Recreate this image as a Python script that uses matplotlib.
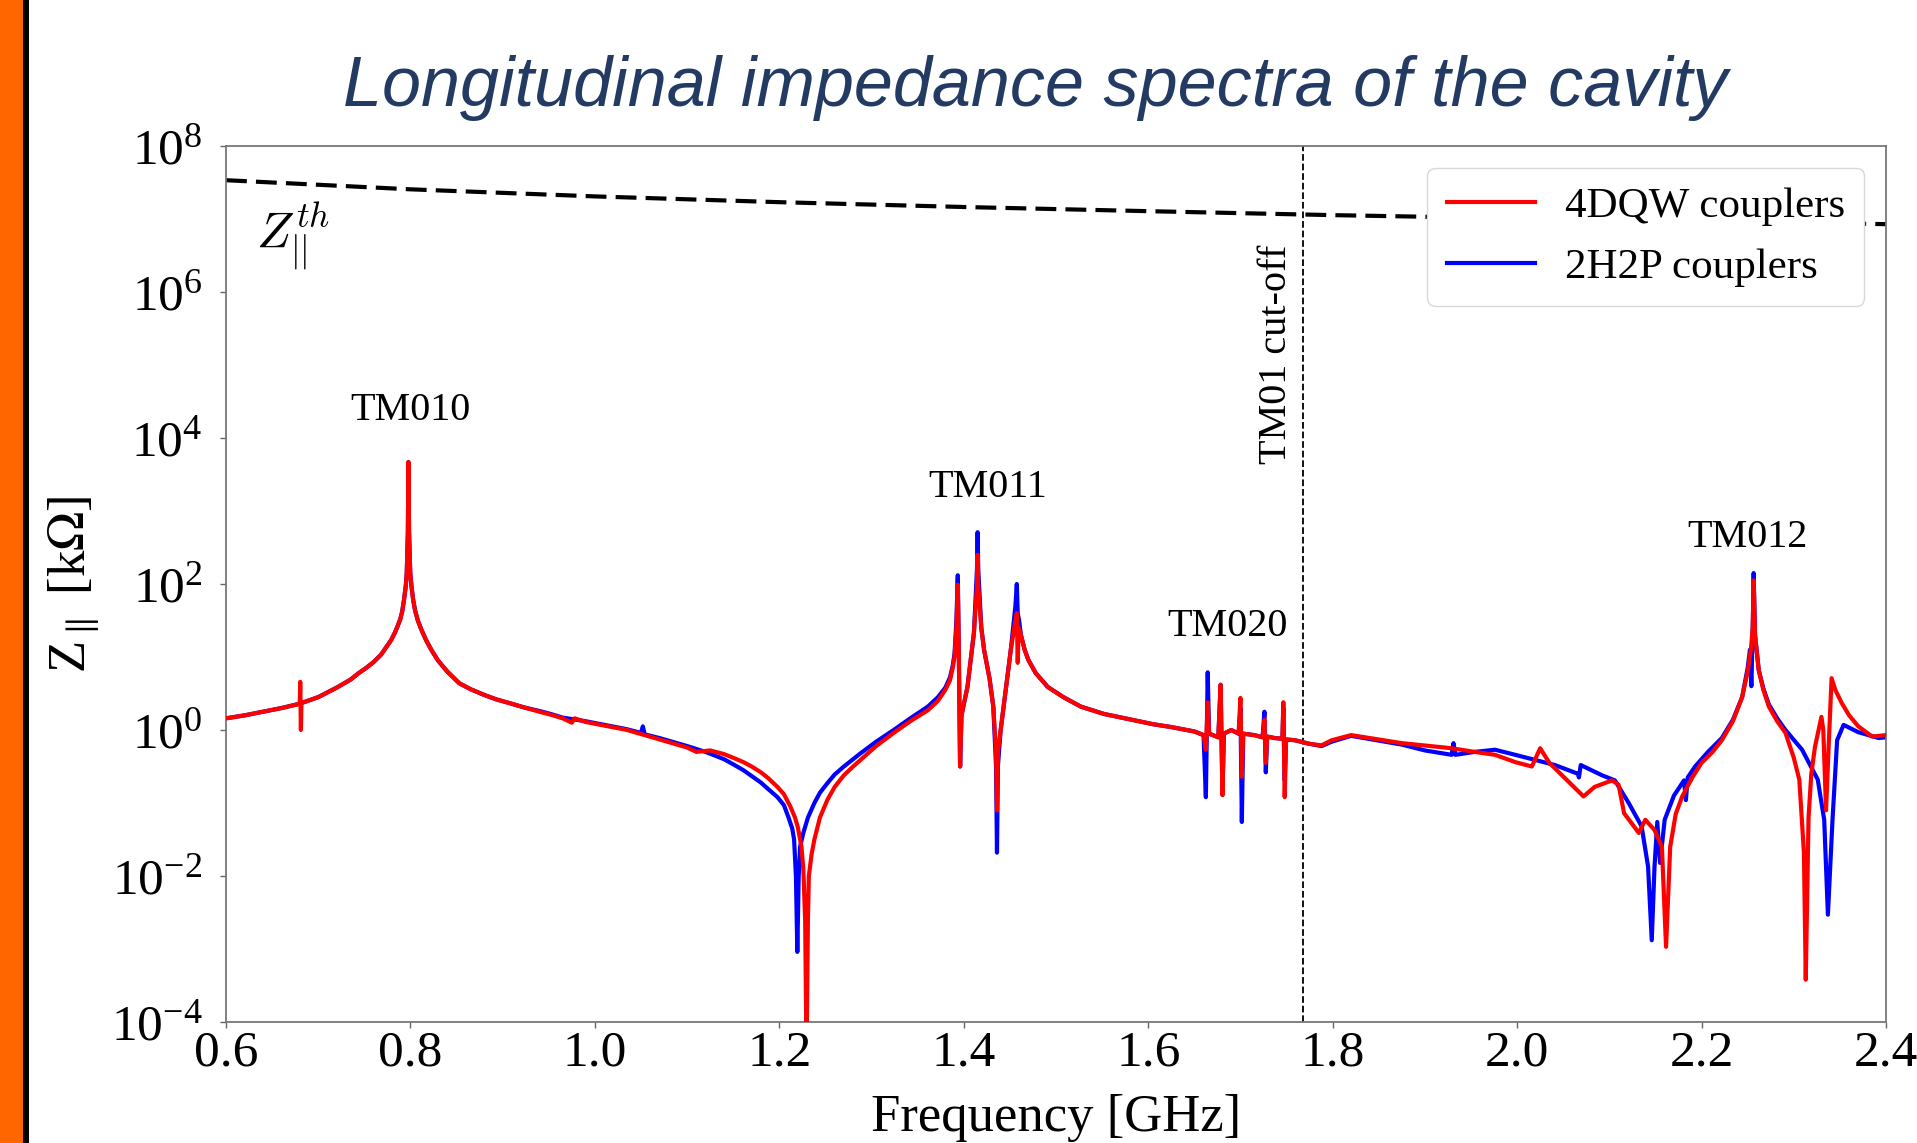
import numpy as np
import matplotlib
matplotlib.use("Agg")
import matplotlib.pyplot as plt
from matplotlib.patches import Rectangle

plt.rcParams['font.family'] = ['Liberation Serif', 'DejaVu Serif']
plt.rcParams['mathtext.fontset'] = 'stix'

# ---------------- data ----------------
# 4DQW couplers (red): frequency [GHz] and log10(|Z| / kOhm)
red_freq = [0.600, 0.620, 0.640, 0.660, 0.680, 0.6805, 0.6812, 0.6818, 0.700, 0.720,
            0.735, 0.744, 0.752, 0.760, 0.768, 0.774, 0.779, 0.783, 0.786, 0.789,
            0.791, 0.793, 0.795, 0.796, 0.7972, 0.7978, 0.7985, 0.7998, 0.801, 0.803,
            0.805, 0.808, 0.812, 0.817, 0.823, 0.830, 0.840, 0.853, 0.865, 0.880,
            0.893, 0.907, 0.923, 0.940, 0.952, 0.965, 0.975, 0.978, 0.990, 1.035,
            1.070, 1.100, 1.110, 1.125, 1.140, 1.150, 1.161, 1.170, 1.180, 1.188,
            1.198, 1.205, 1.212, 1.217, 1.220, 1.224, 1.226, 1.228, 1.2295, 1.231,
            1.232, 1.235, 1.238, 1.244, 1.252, 1.260, 1.270, 1.280, 1.288, 1.305,
            1.324, 1.342, 1.361, 1.372, 1.380, 1.385, 1.388, 1.390, 1.392, 1.3935,
            1.3945, 1.396, 1.3975, 1.404, 1.411, 1.4145, 1.415, 1.4155, 1.419, 1.422,
            1.428, 1.432, 1.435, 1.436, 1.437, 1.440, 1.446, 1.451, 1.456, 1.4575,
            1.4585, 1.4595, 1.462, 1.466, 1.470, 1.478, 1.491, 1.508, 1.527, 1.552,
            1.582, 1.605, 1.625, 1.650, 1.660, 1.6625, 1.6645, 1.666, 1.676, 1.6785,
            1.6805, 1.682, 1.690, 1.698, 1.700, 1.7015, 1.703, 1.715, 1.724, 1.726,
            1.7275, 1.729, 1.737, 1.7455, 1.7465, 1.748, 1.7495, 1.759, 1.775, 1.788,
            1.799, 1.820, 1.875, 1.929, 1.954, 1.976, 1.998, 2.016, 2.025, 2.035,
            2.056, 2.072, 2.084, 2.103, 2.110, 2.116, 2.132, 2.139, 2.149, 2.157,
            2.1615, 2.166, 2.172, 2.179, 2.190, 2.200, 2.212, 2.222, 2.234, 2.244,
            2.250, 2.2535, 2.2555, 2.2565, 2.258, 2.262, 2.267, 2.273, 2.282, 2.291,
            2.300, 2.306, 2.311, 2.313, 2.316, 2.319, 2.323, 2.330, 2.332, 2.335,
            2.3375, 2.341, 2.345, 2.352, 2.360, 2.370, 2.385, 2.400]
red_log10_kohm = [0.16, 0.20, 0.25, 0.30, 0.36, 0.66, 0.00, 0.37, 0.45, 0.58,
                  0.69, 0.78, 0.85, 0.93, 1.03, 1.14, 1.23, 1.33, 1.42, 1.52,
                  1.62, 1.78, 1.98, 2.15, 2.70, 3.67, 2.70, 2.15, 1.98, 1.78,
                  1.64, 1.50, 1.37, 1.23, 1.09, 0.95, 0.80, 0.64, 0.56, 0.48,
                  0.42, 0.37, 0.31, 0.25, 0.21, 0.16, 0.10, 0.16, 0.11, 0.00,
                  -0.13, -0.24, -0.30, -0.28, -0.33, -0.38, -0.44, -0.50, -0.58, -0.66,
                  -0.78, -0.88, -1.05, -1.20, -1.33, -1.60, -1.90, -2.60, -4.50, -2.60,
                  -2.00, -1.70, -1.50, -1.20, -0.96, -0.78, -0.62, -0.50, -0.41, -0.22,
                  -0.04, 0.12, 0.27, 0.40, 0.55, 0.68, 0.85, 1.00, 1.40, 1.99,
                  1.20, -0.50, 0.20, 0.59, 1.33, 2.00, 2.40, 2.00, 1.40, 1.10,
                  0.70, 0.32, -0.30, -1.10, -0.30, 0.00, 0.60, 1.10, 1.50, 1.60,
                  0.92, 1.40, 1.30, 1.10, 0.96, 0.78, 0.59, 0.45, 0.32, 0.22,
                  0.14, 0.08, 0.04, -0.02, -0.07, -0.27, 0.38, -0.05, -0.10, 0.62,
                  -0.89, -0.05, 0.00, -0.05, 0.44, -0.64, -0.05, -0.07, -0.10, 0.14,
                  -0.45, -0.09, -0.11, -0.12, 0.38, -0.92, -0.13, -0.14, -0.19, -0.21,
                  -0.14, -0.07, -0.18, -0.25, -0.30, -0.34, -0.44, -0.50, -0.25, -0.45,
                  -0.71, -0.91, -0.78, -0.69, -0.75, -1.14, -1.41, -1.23, -1.37, -1.60,
                  -2.97, -1.60, -1.15, -0.91, -0.65, -0.45, -0.30, -0.14, 0.12, 0.45,
                  0.80, 1.10, 1.40, 2.05, 1.30, 0.82, 0.55, 0.32, 0.12, -0.04,
                  -0.38, -0.68, -1.68, -3.42, -1.20, -0.60, -0.23, 0.18, 0.00, -1.10,
                  -0.32, 0.71, 0.55, 0.37, 0.20, 0.05, -0.09, -0.07]

# 2H2P couplers (blue)
blue_freq = [0.600, 0.620, 0.640, 0.660, 0.680, 0.700, 0.720, 0.735, 0.744, 0.752,
             0.760, 0.768, 0.774, 0.779, 0.783, 0.786, 0.789, 0.791, 0.793, 0.795,
             0.796, 0.7972, 0.7978, 0.7985, 0.7998, 0.801, 0.803, 0.805, 0.808, 0.812,
             0.817, 0.823, 0.830, 0.840, 0.853, 0.865, 0.880, 0.893, 0.907, 0.923,
             0.940, 0.952, 0.965, 0.990, 1.035, 1.050, 1.052, 1.054, 1.070, 1.100,
             1.120, 1.140, 1.150, 1.161, 1.170, 1.180, 1.188, 1.198, 1.205, 1.210,
             1.214, 1.216, 1.218, 1.2195, 1.221, 1.2225, 1.226, 1.231, 1.238, 1.244,
             1.252, 1.260, 1.270, 1.280, 1.288, 1.305, 1.324, 1.342, 1.361, 1.372,
             1.380, 1.385, 1.388, 1.390, 1.392, 1.3935, 1.3945, 1.396, 1.3975, 1.404,
             1.411, 1.4143, 1.415, 1.4157, 1.419, 1.422, 1.428, 1.432, 1.435, 1.436,
             1.437, 1.440, 1.446, 1.451, 1.456, 1.4575, 1.4585, 1.460, 1.462, 1.466,
             1.470, 1.478, 1.491, 1.508, 1.527, 1.552, 1.582, 1.605, 1.625, 1.650,
             1.660, 1.6625, 1.6645, 1.666, 1.676, 1.6785, 1.6805, 1.682, 1.690, 1.698,
             1.700, 1.7015, 1.703, 1.715, 1.724, 1.726, 1.7275, 1.729, 1.737, 1.7455,
             1.7465, 1.748, 1.7495, 1.759, 1.775, 1.788, 1.799, 1.820, 1.875, 1.900,
             1.929, 1.931, 1.933, 1.954, 1.976, 1.998, 2.041, 2.066, 2.067, 2.069,
             2.092, 2.106, 2.121, 2.135, 2.142, 2.146, 2.149, 2.152, 2.155, 2.160,
             2.170, 2.181, 2.183, 2.185, 2.193, 2.207, 2.222, 2.234, 2.244, 2.250,
             2.2525, 2.254, 2.2555, 2.2565, 2.258, 2.262, 2.267, 2.273, 2.282, 2.291,
             2.309, 2.326, 2.333, 2.337, 2.342, 2.347, 2.354, 2.370, 2.392, 2.400]
blue_log10_kohm = [0.16, 0.20, 0.25, 0.30, 0.36, 0.45, 0.58, 0.69, 0.78, 0.85,
                   0.93, 1.03, 1.14, 1.23, 1.33, 1.42, 1.52, 1.62, 1.78, 1.98,
                   2.15, 2.70, 3.67, 2.70, 2.15, 1.98, 1.78, 1.64, 1.50, 1.37,
                   1.23, 1.09, 0.95, 0.80, 0.64, 0.56, 0.48, 0.42, 0.37, 0.31,
                   0.26, 0.22, 0.17, 0.12, 0.01, -0.04, 0.05, -0.06, -0.11, -0.22,
                   -0.30, -0.40, -0.47, -0.55, -0.63, -0.72, -0.81, -0.92, -1.03, -1.20,
                   -1.35, -1.50, -2.00, -3.04, -2.00, -1.60, -1.41, -1.20, -1.00, -0.86,
                   -0.73, -0.61, -0.50, -0.40, -0.32, -0.16, 0.00, 0.16, 0.32, 0.45,
                   0.58, 0.72, 0.88, 1.05, 1.50, 2.12, 1.20, -0.50, 0.20, 0.59,
                   1.33, 2.20, 2.71, 2.20, 1.40, 1.10, 0.70, 0.32, -0.50, -1.68,
                   -0.50, 0.00, 0.60, 1.10, 1.70, 2.00, 1.60, 1.50, 1.30, 1.10,
                   0.96, 0.78, 0.59, 0.45, 0.32, 0.22, 0.14, 0.08, 0.04, -0.02,
                   -0.07, -0.92, 0.79, -0.05, -0.10, 0.62, -0.89, -0.05, 0.00, -0.05,
                   0.30, -1.26, -0.05, -0.07, -0.10, 0.25, -0.58, -0.09, -0.11, -0.12,
                   0.30, -0.69, -0.13, -0.14, -0.19, -0.22, -0.16, -0.08, -0.20, -0.28,
                   -0.34, -0.18, -0.34, -0.30, -0.27, -0.34, -0.48, -0.60, -0.65, -0.48,
                   -0.62, -0.69, -1.00, -1.32, -1.87, -2.88, -1.87, -1.26, -1.82, -1.23,
                   -0.90, -0.69, -0.96, -0.65, -0.50, -0.30, -0.11, 0.14, 0.45, 0.85,
                   1.10, 0.60, 1.40, 2.15, 1.30, 0.82, 0.57, 0.35, 0.16, 0.00,
                   -0.27, -0.68, -1.23, -2.53, -1.23, -0.14, 0.07, -0.03, -0.11, -0.10]

# threshold impedance Z_th (black dashed), kOhm
zth_freq = [0.6, 0.8, 1.0, 1.2, 1.4, 1.6, 1.8, 2.0, 2.2, 2.4]
zth_kohm = [3.4e7, 2.55e7, 2.04e7, 1.7e7, 1.46e7, 1.28e7, 1.13e7, 1.02e7, 9.3e6, 8.5e6]

cutoff_freq = 1.768  # TM01 cut-off [GHz]

mode_labels = ["TM010", "TM011", "TM020", "TM012"]
mode_label_freq = [0.80, 1.426, 1.686, 2.250]
mode_label_kohm = [2.4e4, 2.1e3, 2.6e1, 4.3e2]

xtick_vals = [0.6, 0.8, 1.0, 1.2, 1.4, 1.6, 1.8, 2.0, 2.2, 2.4]
ytick_vals = [1e-4, 1e-2, 1e0, 1e2, 1e4, 1e6, 1e8]

# ---------------- figure ----------------
W, H = 1917, 1143
fig = plt.figure(figsize=(W / 100, H / 100), dpi=100)
fig.patch.set_facecolor('white')

# orange side band
fig.add_artist(Rectangle((0, 0), 23 / W, 1, transform=fig.transFigure,
                         facecolor='#FF6600', edgecolor='none'))
fig.add_artist(Rectangle((23 / W, 0), 6 / W, 1, transform=fig.transFigure,
                         facecolor='black', edgecolor='none'))

fig.text(1035 / W, 1 - 88 / H, "Longitudinal impedance spectra of the cavity",
         ha='center', va='center', fontsize=50.5, style='italic',
         family=['Liberation Sans', 'DejaVu Sans'], color='#233B63')

ax = fig.add_axes([226 / W, (H - 1022) / H, (1886 - 226) / W, (1022 - 146) / H])

ax.plot(blue_freq, np.power(10.0, blue_log10_kohm), color='#0000FF', lw=3.0,
        label='2H2P couplers', zorder=2)
ax.plot(red_freq, np.power(10.0, red_log10_kohm), color='#FF0000', lw=3.0,
        label='4DQW couplers', zorder=3)
zl, = ax.plot(zth_freq, zth_kohm, color='black', lw=3.0, zorder=2)
zl.set_dashes([5, 2.2])
ax.axvline(cutoff_freq, color='black', lw=1.3, ls='--', zorder=1)

ax.set_yscale('log')
ax.set_xlim(0.6, 2.4)
ax.set_ylim(1e-4, 1e8)
ax.set_xticks(xtick_vals)
ax.set_xticklabels([f"{v:.1f}" for v in xtick_vals])
ax.set_yticks(ytick_vals)
ax.yaxis.set_minor_locator(matplotlib.ticker.NullLocator())
ax.tick_params(labelsize=37, length=4, width=1, color='#666666')
ax.tick_params(axis='x', pad=2)
ax.tick_params(axis='y', pad=13)
for s in ax.spines.values():
    s.set_color('#777777')
    s.set_linewidth(1.3)

ax.set_xlabel('Frequency [GHz]', fontsize=38, labelpad=12)
ax.set_ylabel(r'Z$_\parallel$ [k$\Omega$]', fontsize=38, labelpad=6)

for name, fx, fy in zip(mode_labels, mode_label_freq, mode_label_kohm):
    ax.text(fx, fy, name, ha='center', va='center', fontsize=29)

ax.text(1.739, 10 ** 5.14, 'TM01 cut-off', rotation=90, ha='center', va='center',
        fontsize=29)
ax.text(0.632, 10 ** 6.75, r'$Z_{||}^{th}$', ha='left', va='center', fontsize=36,
        math_fontfamily='cm')

h, l = ax.get_legend_handles_labels()
leg = ax.legend(h[::-1], l[::-1], loc='upper right', fontsize=31,
                handlelength=2.05, handletextpad=0.7, labelspacing=0.5,
                borderpad=0.45, borderaxespad=0.5, framealpha=1.0,
                edgecolor='#d8d8d8')
leg.set_zorder(5)

fig.savefig('out.png', dpi=100, facecolor='white')
